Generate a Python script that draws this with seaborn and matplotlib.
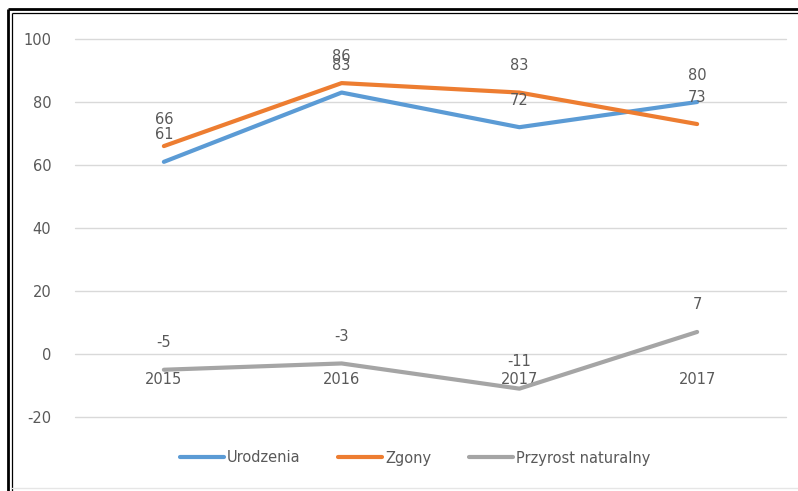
import matplotlib
matplotlib.use("Agg")
import matplotlib.pyplot as plt
from matplotlib.lines import Line2D
import seaborn as sns
import pandas as pd

years = ["2015", "2016", "2017", "2017 "]
urodzenia = [61, 83, 72, 80]
zgony = [66, 86, 83, 73]
przyrost = [-5, -3, -11, 7]
series_names = ["Urodzenia", "Zgony", "Przyrost naturalny"]
colors = ["#5B9BD5", "#ED7D31", "#A5A5A5"]
yticks = [-20, 0, 20, 40, 60, 80, 100]

rows = []
for name, vals in zip(series_names, [urodzenia, zgony, przyrost]):
    for i, (yr, v) in enumerate(zip(years, vals)):
        rows.append({"pos": i, "rok": yr, "seria": name, "wartosc": v})
df = pd.DataFrame(rows)

sns.set_theme(style="white")
plt.rcParams["font.family"] = ["DejaVu Sans"]
txt = "#595959"

W, H = 798, 491
fig = plt.figure(figsize=(W / 100, H / 100), dpi=100)
ax = fig.add_axes([75 / W, 1 - 417 / H, (786 - 75) / W, (417 - 39) / H])

sns.lineplot(data=df, x="pos", y="wartosc", hue="seria", hue_order=series_names,
             palette=colors, linewidth=3.0, ax=ax, legend=False, sort=False)

ax.set_xlim(-0.5, len(years) - 0.5)
ax.set_ylim(min(yticks), max(yticks))
ax.set_yticks(yticks)
ax.set_yticklabels([str(t) for t in yticks], color=txt, fontsize=10.5)
ax.tick_params(axis="y", length=0, pad=17)
ax.yaxis.grid(True, color="#d9d9d9", linewidth=1)
for gl in ax.get_ygridlines():
    gl.set_clip_on(False)
ax.set_axisbelow(True)
for s in ax.spines.values():
    s.set_visible(False)

# category axis crossing at zero
ax.spines["bottom"].set_position(("data", 0))
ax.set_xticks(range(len(years)))
ax.set_xticklabels([y.strip() for y in years], color=txt, fontsize=10.5)
ax.tick_params(axis="x", length=0, pad=13)
ax.set_xlabel("")
ax.set_ylabel("")

for vals in [urodzenia, zgony, przyrost]:
    for i, v in enumerate(vals):
        ax.annotate(str(v), xy=(i, v), xytext=(0, 27), textcoords="offset pixels",
                    ha="center", va="center", fontsize=10.5, color=txt)

handles = [Line2D([0], [0], color=c, lw=3.0) for c in colors]
fig.legend(handles, series_names, loc="center", bbox_to_anchor=(415 / W, 1 - 458 / H),
           ncol=3, frameon=False, fontsize=10.5, labelcolor=txt,
           handlelength=3.0, handletextpad=0.2, columnspacing=2.6)

# double border (left and top)
fig.add_artist(Line2D([8 / W, 8 / W], [0, 1 - 9 / H], transform=fig.transFigure,
                      color="black", lw=2.0, solid_capstyle="butt"))
fig.add_artist(Line2D([8 / W, 1], [1 - 9 / H, 1 - 9 / H], transform=fig.transFigure,
                      color="black", lw=2.0, solid_capstyle="butt"))
fig.add_artist(Line2D([12 / W, 12 / W], [0, 1 - 12.5 / H], transform=fig.transFigure,
                      color="black", lw=0.9, solid_capstyle="butt"))
fig.add_artist(Line2D([12 / W, 1], [1 - 12.5 / H, 1 - 12.5 / H], transform=fig.transFigure,
                      color="black", lw=0.9, solid_capstyle="butt"))
fig.add_artist(Line2D([12 / W, 1], [1 - 488 / H, 1 - 488 / H], transform=fig.transFigure,
                      color="#e6e6e6", lw=1.0))

fig.savefig("out.png", dpi=100)
